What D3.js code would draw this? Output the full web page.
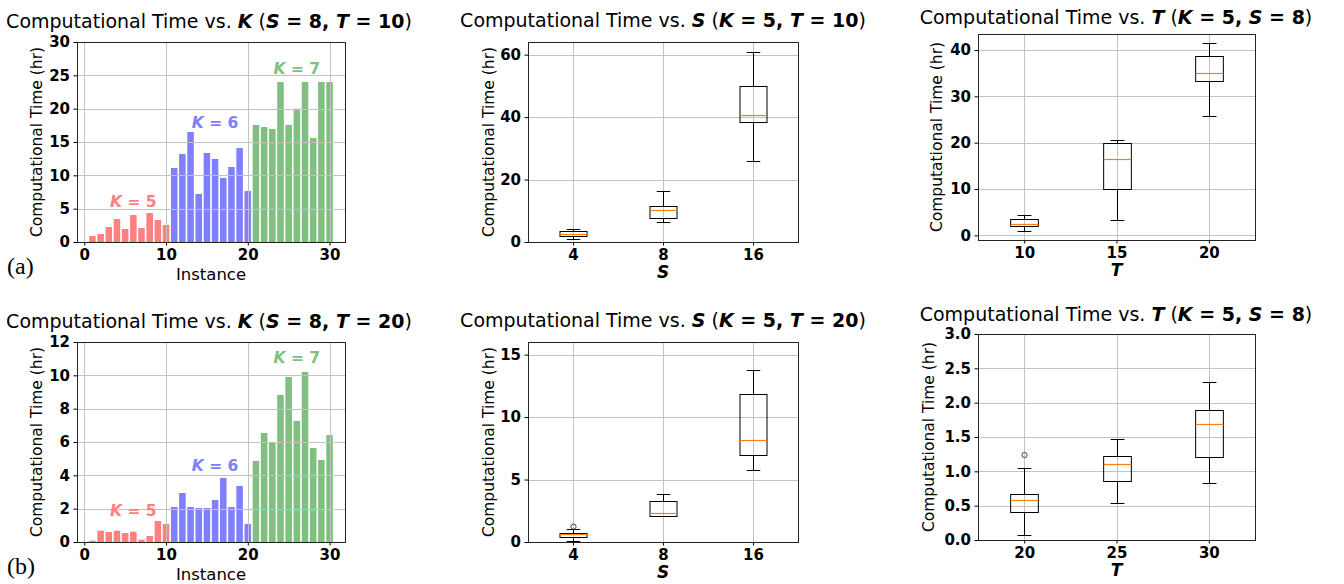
<!DOCTYPE html>
<html>
<head>
<meta charset="utf-8">
<script src="https://cdn.jsdelivr.net/npm/d3@7"></script>
<style>
  body { margin: 0; background: #fff; }
  text { font-family: "DejaVu Sans"; fill: #000; white-space: pre; }
</style>
</head>
<body>
<script>
// bar panels: computational time per instance, K = 5 / 6 / 7 in blocks of 10
const instances = d3.range(1, 31);
const kValues = [5, 6, 7];
const kColors = ["#ff8080", "#8080ff", "#80bf80"];
const timeK_a = [0.9, 1.2, 2.25, 3.45, 1.95, 4.05, 2.1, 4.35, 3.3, 2.55,
                 11.1, 13.2, 16.5, 7.2, 13.35, 12.45, 9.6, 11.25, 14.1, 7.65,
                 17.55, 17.25, 16.95, 24, 17.55, 20, 24, 15.6, 24, 24];
const timeK_b = [0.08, 0.68, 0.6, 0.68, 0.54, 0.62, 0.14, 0.36, 1.26, 1.08,
                 2.1, 2.94, 2.1, 2.04, 2.04, 2.52, 3.84, 2.1, 3.36, 1.08,
                 4.86, 6.54, 5.96, 8.82, 9.9, 7.26, 10.2, 5.64, 4.92, 6.42];
const kLabelX = [6, 16, 26];
const kLabelY_a = [6.05, 17.9, 26];
const kLabelY_b = [1.88, 4.58, 11.08];

// box panels: [whisker low, q1, median, q3, whisker high] per category
const sCats = [4, 8, 16];
const boxS_a = [[0.96, 1.8, 2.45, 3.4, 4.27], [6.3, 7.58, 10.14, 11.53, 16.44], [25.94, 38.43, 40.57, 50.07, 60.96]];
const boxS_b = [[0.05, 0.4, 0.61, 0.69, 1.04], [2.05, 2.05, 2.35, 3.26, 3.82], [5.76, 6.99, 8.14, 11.88, 13.74]];
const outS_b = [[1.23], [], []];
const tCats_a = [10, 15, 20];
const boxT_a = [[0.86, 1.94, 2.37, 3.45, 4.32], [3.38, 10.07, 16.47, 20.0, 20.5], [25.76, 33.3, 35.1, 38.63, 41.44]];
const tCats_b = [20, 25, 30];
const boxT_b = [[0.068, 0.408, 0.583, 0.665, 1.044], [0.534, 0.854, 1.112, 1.228, 1.466], [0.835, 1.204, 1.694, 1.888, 2.301]];
const outT_b = [[1.238], [], []];

const svg = d3.select("body").append("svg").attr("width", 1344).attr("height", 584);

function richText(parts, x, y, size) {
    const t = svg.append("text")
        .attr("x", x).attr("y", y)
        .attr("text-anchor", "middle")
        .style("font-size", size + "px");
    parts.forEach(([s, st]) => {
        t.append("tspan").text(s)
            .style("font-weight", st.includes("b") ? "bold" : "normal")
            .style("font-style", st.includes("i") ? "italic" : "normal");
    });
    return t;
}

function titleParts(v, a, av, b, bv) {
    return [["Computational Time vs. ", ""], [v, "bi"], [" (", ""], [a, "bi"], [" = " + av + ", ", "b"],
            [b, "bi"], [" = " + bv, "b"], [")", ""]];
}

function makeAxes(o) {
    const x = d3.scaleLinear().domain(o.xDomain).range([o.left, o.right]);
    const y = d3.scaleLinear().domain(o.yDomain).range([o.bottom, o.top]);
    const g = svg.append("g");
    const under = g.append("g");
    const grid = g.append("g");
    const over = g.append("g");

    grid.selectAll(".gx").data(o.xTicks).enter().append("line")
        .attr("x1", d => Math.round(x(d)) + 0.5).attr("x2", d => Math.round(x(d)) + 0.5)
        .attr("y1", o.top).attr("y2", o.bottom)
        .attr("stroke", "#c2c2c2").attr("stroke-width", 1);
    grid.selectAll(".gy").data(o.yTicks).enter().append("line")
        .attr("y1", d => Math.round(y(d)) + 0.5).attr("y2", d => Math.round(y(d)) + 0.5)
        .attr("x1", o.left).attr("x2", o.right)
        .attr("stroke", "#c2c2c2").attr("stroke-width", 1);

    const ax = g.append("g").attr("transform", `translate(0,${o.bottom})`)
        .call(d3.axisBottom(x).tickValues(o.xTicks).tickFormat(o.xFmt).tickSize(3.5).tickPadding(3.5));
    const ay = g.append("g").attr("transform", `translate(${o.left},0)`)
        .call(d3.axisLeft(y).tickValues(o.yTicks).tickFormat(o.yFmt).tickSize(3.5).tickPadding(3.5));
    [ax, ay].forEach(a => {
        a.select(".domain").remove();
        a.attr("font-family", null).attr("font-size", null);
        a.selectAll("line").attr("stroke", "#000");
        a.selectAll("text").style("font-size", "15px").style("font-weight", "bold").attr("fill", "#000");
    });

    g.append("rect")
        .attr("x", o.left + 0.5).attr("y", o.top + 0.5)
        .attr("width", o.right - o.left).attr("height", o.bottom - o.top)
        .attr("fill", "none").attr("stroke", "#222").attr("stroke-width", 1);

    svg.append("text")
        .attr("transform", `translate(${o.ylabelX},${(o.top + o.bottom) / 2}) rotate(-90)`)
        .attr("text-anchor", "middle").attr("dy", "0.35em")
        .style("font-size", "15.5px")
        .text("Computational Time (hr)");

    return { x, y, under, over };
}

function barPanel(o, values, labelY) {
    const a = makeAxes(Object.assign({
        xDomain: [-0.89, 31.89], xTicks: [0, 10, 20, 30], xFmt: d3.format("d"), yFmt: d3.format("d")
    }, o));
    const bw = a.x(0.8) - a.x(0);
    a.under.selectAll("rect").data(instances).enter().append("rect")
        .attr("x", d => a.x(d) - bw / 2)
        .attr("width", bw)
        .attr("y", (d, i) => a.y(values[i]))
        .attr("height", (d, i) => a.y(0) - a.y(values[i]))
        .attr("fill", d => kColors[Math.floor((d - 1) / 10)]);
    kValues.forEach((k, i) => {
        richText([["K", "bi"], [" = " + k, "b"]], a.x(kLabelX[i]), a.y(labelY[i]), 15.5)
            .attr("dy", "0.36em").style("fill", kColors[i]);
    });
    svg.append("text").attr("x", (o.left + o.right) / 2).attr("y", o.bottom + 38)
        .attr("text-anchor", "middle").style("font-size", "16.5px").text("Instance");
}

function boxPanel(o, cats, stats, outs, xName) {
    const a = makeAxes(Object.assign({
        xDomain: [0.5, 3.5], xTicks: [1, 2, 3], xFmt: (d, i) => cats[i]
    }, o));
    const pos = d => a.x(d + 1);
    const hw = (a.x(0.3) - a.x(0)) / 2;
    const cw = hw / 2;
    const g = a.over;
    const px = v => Math.round(v) + 0.5;
    stats.forEach((s, i) => {
        const cx = px(pos(i));
        const [lo, q1, med, q3, hi] = s.map(v => px(a.y(v)));
        g.append("line").attr("x1", cx).attr("x2", cx).attr("y1", lo).attr("y2", q1).attr("stroke", "#000");
        g.append("line").attr("x1", cx).attr("x2", cx).attr("y1", q3).attr("y2", hi).attr("stroke", "#000");
        g.append("line").attr("x1", cx - cw).attr("x2", cx + cw).attr("y1", lo).attr("y2", lo).attr("stroke", "#000");
        g.append("line").attr("x1", cx - cw).attr("x2", cx + cw).attr("y1", hi).attr("y2", hi).attr("stroke", "#000");
        g.append("rect").attr("x", cx - hw).attr("width", 2 * hw).attr("y", q3).attr("height", q1 - q3)
            .attr("fill", "none").attr("stroke", "#000");
        g.append("line").attr("x1", cx - hw).attr("x2", cx + hw).attr("y1", med).attr("y2", med)
            .attr("stroke", "#ff7f0e").attr("stroke-width", 1.2);
        outs[i].forEach(v => {
            g.append("circle").attr("cx", cx).attr("cy", a.y(v)).attr("r", 2.6)
                .attr("fill", "none").attr("stroke", "#444").attr("stroke-width", 1);
        });
    });
    richText([[xName, "bi"]], (o.left + o.right) / 2, o.bottom + 36, 17);
}

// row (a)
barPanel({ left: 77, right: 345, top: 42, bottom: 242, yDomain: [0, 30], yTicks: d3.range(0, 31, 5), ylabelX: 37 }, timeK_a, kLabelY_a);
boxPanel({ left: 528, right: 798, top: 42, bottom: 242, yDomain: [0, 64.05], yTicks: [0, 20, 40, 60], yFmt: d3.format("d"), ylabelX: 489 },
    sCats, boxS_a, [[], [], []], "S");
boxPanel({ left: 978, right: 1255, top: 34, bottom: 240, yDomain: [-1.0, 43.45], yTicks: [0, 10, 20, 30, 40], yFmt: d3.format("d"), ylabelX: 937 },
    tCats_a, boxT_a, [[], [], []], "T");

// row (b)
barPanel({ left: 77, right: 345, top: 342, bottom: 542, yDomain: [0, 12], yTicks: d3.range(0, 13, 2), ylabelX: 37 }, timeK_b, kLabelY_b);
boxPanel({ left: 528, right: 798, top: 342, bottom: 542, yDomain: [0, 16.01], yTicks: [0, 5, 10, 15], yFmt: d3.format("d"), ylabelX: 489 },
    sCats, boxS_b, outS_b, "S");
boxPanel({ left: 978, right: 1255, top: 334, bottom: 540, yDomain: [0, 3], yTicks: d3.range(0, 3.01, 0.5), yFmt: d3.format(".1f"), ylabelX: 929 },
    tCats_b, boxT_b, outT_b, "T");

// titles
richText(titleParts("K", "S", 8, "T", 10), 209, 28, 19);
richText(titleParts("S", "K", 5, "T", 10), 663, 27, 19);
richText(titleParts("T", "K", 5, "S", 8), 1116, 24, 19);
richText(titleParts("K", "S", 8, "T", 20), 209, 328, 19);
richText(titleParts("S", "K", 5, "T", 20), 663, 327, 19);
richText(titleParts("T", "K", 5, "S", 8), 1116, 321, 19);

// row tags
svg.append("text").attr("x", 7).attr("y", 274).style("font-family", "'Liberation Serif'").style("font-size", "24px").text("(a)");
svg.append("text").attr("x", 7).attr("y", 574).style("font-family", "'Liberation Serif'").style("font-size", "24px").text("(b)");
</script>
</body>
</html>
